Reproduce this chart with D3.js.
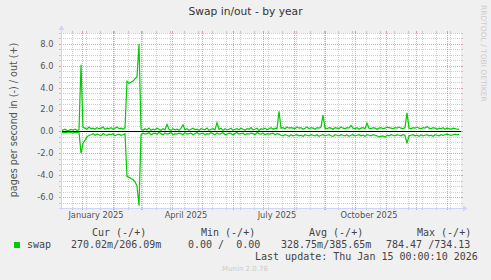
<!DOCTYPE html>
<html><head><meta charset="utf-8">
<script src="https://cdn.jsdelivr.net/npm/d3@7"></script>
<style>html,body{margin:0;padding:0;background:#f0f0f0;} svg{display:block} text.pre{white-space:pre}</style>
</head><body><svg id="c" width="491" height="280"></svg>
<script>
const title = "Swap in/out - by year";
const yLabel = "pages per second in (-) / out (+)";
const yTicks = [-6, -4, -2, 0, 2, 4, 6, 8];
const yTickLabels = ["-6.0", "-4.0", "-2.0", "0.0", "2.0", "4.0", "6.0", "8.0"];
const xLabels = ["January 2025", "April 2025", "July 2025", "October 2025"];
const xLabelDates = ["2025-01-15", "2025-04-15", "2025-07-15", "2025-10-15"];
const periodStart = "2024-12-11T00:00:10Z";
const periodEnd = "2026-01-15T00:00:10Z";
const stepDays = 2;
// pages per second swapped out (+), one value every 2 days
const swapOut = [
 0.15,0.12,0.2,0.08,0.1,0.18,0.12,0.2,0.1,0.15,
 6.1,
 0.35,0.3,0.2,0.4,0.25,0.3,0.2,0.35,0.25,0.3,0.4,0.2,0.3,0.25,0.35,0.2,0.3,0.4,0.25,0.3,0.2,0.35,
 4.6,4.4,4.5,4.6,4.8,5.0,8.0,
 0.2,0.1,0.25,0.15,0.3,0.1,0.2,0.15,0.3,0.2,0.1,0.25,0.15,
 0.65,
 0.2,0.1,0.25,0.15,0.2,0.1,0.3,
 0.6,
 0.15,0.25,0.1,0.2,0.3,0.15,0.2,0.1,0.25,0.2,0.15,0.3,0.1,0.2,0.25,0.15,
 0.8,
 0.2,0.3,0.1,0.25,0.15,0.2,0.3,0.1,0.2,0.25,0.15,0.3,0.2,0.1,0.25,0.2,0.35,0.15,0.2,0.3,0.1,0.25,0.2,0.3,0.15,0.25,0.35,0.2,0.3,0.25,
 1.85,
 0.3,0.35,0.25,0.4,0.3,0.35,0.3,0.25,0.4,0.3,0.35,0.2,0.3,0.4,0.25,0.35,0.3,0.2,0.35,0.3,0.4,
 1.5,
 0.3,0.25,0.35,0.3,0.2,0.35,0.3,0.25,0.4,0.3,0.25,0.35,0.3,
 0.55,
 0.3,0.25,0.35,0.2,0.3,0.35,0.25,
 0.75,
 0.3,0.25,0.35,0.3,0.2,0.3,0.35,0.25,0.3,0.4,0.35,0.3,0.25,0.35,0.3,0.4,0.3,0.25,0.35,
 1.7,
 0.3,0.25,0.35,0.3,0.4,0.3,0.25,0.35,0.3,0.45,0.3,0.25,0.35,0.3,0.2,0.3,0.25,0.35,0.2,0.3,0.25,0.2,0.3,0.25,0.2,0.21
];
// pages per second swapped in (-), one value every 2 days
const swapIn = [
 0.05,0.1,0.08,0.12,0.05,0.1,0.15,0.08,0.1,0.05,
 2.0,
 1.1,0.8,0.5,0.35,
 0.3,0.2,0.35,0.25,0.3,0.4,0.2,0.3,0.35,0.25,0.3,0.2,0.4,0.3,0.25,0.35,0.3,0.2,
 4.1,4.2,4.3,4.4,4.6,5.0,6.8,
 0.3,0.15,0.25,0.2,0.1,0.3,0.2,0.15,0.25,0.1,
 0.2,0.3,0.15,0.25,0.2,0.1,0.3,0.2,0.25,0.15,
 0.2,0.3,0.1,0.25,0.2,0.15,0.3,0.2,0.1,0.25,
 0.2,0.15,0.3,0.2,0.25,0.1,0.2,0.3,0.15,0.25,
 0.2,0.1,0.3,0.25,0.15,0.2,0.3,0.2,0.1,0.25,
 0.2,0.15,0.3,0.2,0.25,0.15,0.2,0.3,0.1,0.2,
 0.25,0.15,0.3,0.2,0.25,0.2,0.15,0.3,0.2,
 0.25,
 0.35,0.4,0.3,0.35,0.45,0.3,0.4,0.35,0.3,0.4,
 0.35,0.45,0.3,0.35,0.4,0.3,0.35,0.4,0.3,0.45,
 0.35,0.3,0.4,0.35,0.3,0.4,0.45,0.3,0.35,0.4,
 0.3,0.35,0.4,0.3,0.45,0.35,0.3,0.4,0.35,0.3,
 0.4,0.35,0.45,0.3,0.35,0.4,0.3,0.35,0.4,0.5,
 0.45,0.4,0.5,0.35,0.4,0.3,0.35,0.4,0.3,0.35,
 0.4,0.3,0.35,
 1.1,
 0.4,0.35,0.3,0.4,0.35,0.45,0.3,0.4,0.35,0.3,0.4,0.35,0.45,0.3,0.35,0.4,0.3,0.35,0.3,0.25,0.3,0.35,0.3,0.25,0.3,0.27
];
const seriesName = "swap";
const legendHeaders = ["Cur (-/+)", "Min (-/+)", "Avg (-/+)", "Max (-/+)"];
const legendValues = ["270.02m/206.09m", "0.00 /  0.00", "328.75m/385.65m", "784.47 /734.13"];
const lastUpdate = "Last update: Thu Jan 15 00:00:10 2026";
const version = "Munin 2.0.76";
const watermark = "RRDTOOL / TOBI OETIKER";

const svg = d3.select("#c");
const L = 61, R = 461, T = 33, B = 208;
const t0 = new Date(periodStart), t1 = new Date(periodEnd);
const x = d3.scaleUtc().domain([t0, t1]).range([L, R]);
const y = d3.scaleLinear().domain([-7, 9]).range([B, T]);
const DAY = 86400000;
const px = v => Math.round(v) + 0.5;

svg.append("rect").attr("x", 0).attr("y", 0).attr("width", 491).attr("height", 280).attr("fill", "#f0f0f0");
svg.append("rect").attr("x", L).attr("y", T).attr("width", R - L).attr("height", B - T).attr("fill", "#ffffff");

const gridCol = "rgba(128,128,128,0.38)";
const mgridCol = "rgba(224,80,80,0.55)";
const g = svg.append("g");

function hline(v, col) {
  const yy = px(y(v));
  g.append("line").attr("x1", L - 2).attr("x2", L).attr("y1", yy).attr("y2", yy).attr("stroke", col);
  g.append("line").attr("x1", R).attr("x2", R + 2).attr("y1", yy).attr("y2", yy).attr("stroke", col);
  g.append("line").attr("x1", L).attr("x2", R).attr("y1", yy).attr("y2", yy).attr("stroke", col).attr("stroke-dasharray", "1,1");
}
function vline(d, col) {
  const xx = px(x(d));
  g.append("line").attr("x1", xx).attr("x2", xx).attr("y1", B).attr("y2", B + 2).attr("stroke", col);
  g.append("line").attr("x1", xx).attr("x2", xx).attr("y1", T - 2).attr("y2", T).attr("stroke", col);
  g.append("line").attr("x1", xx).attr("x2", xx).attr("y1", T).attr("y2", B).attr("stroke", col).attr("stroke-dasharray", "1,1");
}
d3.range(-7, 9.001, 0.5).filter(v => Math.abs(v % 2) > 1e-6).forEach(v => hline(v, gridCol));
d3.utcWeek.range(new Date("2024-12-08T00:00:00Z"), t1, 2).filter(d => d >= t0).forEach(d => vline(d, gridCol));
yTicks.forEach(v => hline(v, mgridCol));
d3.utcMonth.range(t0, t1).forEach(d => vline(d, mgridCol));

// y tick labels
svg.append("g").selectAll("text").data(yTicks).join("text")
  .attr("x", 53.5).attr("y", d => y(d)).attr("dy", "0.35em")
  .attr("text-anchor", "end").attr("font-family", "DejaVu Sans").attr("font-size", 8.3)
  .attr("fill", "#555").text((d, i) => yTickLabels[i]);
// x labels
svg.append("g").selectAll("text").data(xLabels).join("text")
  .attr("x", (d, i) => x(new Date(xLabelDates[i] + "T00:00:00Z")))
  .attr("y", 217.5).attr("text-anchor", "middle").attr("font-family", "DejaVu Sans").attr("font-size", 8.3)
  .attr("fill", "#555").text(d => d);

// data lines
const outData = swapOut.map((v, i) => ({t: new Date(t0.getTime() + i * stepDays * DAY), v: v}));
const inData = swapIn.map((v, i) => ({t: new Date(t0.getTime() + i * stepDays * DAY), v: -v}));
const line = d3.line().x(d => x(d.t)).y(d => y(d.v));
svg.append("path").attr("d", line(inData)).attr("fill", "none").attr("stroke", "#00cc00").attr("stroke-width", 1.2);
svg.append("path").attr("d", line(outData)).attr("fill", "none").attr("stroke", "#00cc00").attr("stroke-width", 1.2);
// zero line
svg.append("line").attr("x1", L).attr("x2", R).attr("y1", px(y(0))).attr("y2", px(y(0))).attr("stroke", "#000");

// axes
const axisCol = "#cfd6f8";
svg.append("line").attr("x1", L - 2).attr("x2", R + 3).attr("y1", B + 0.5).attr("y2", B + 0.5).attr("stroke", axisCol);
svg.append("line").attr("x1", L + 0.5).attr("x2", L + 0.5).attr("y1", B + 2).attr("y2", T - 3).attr("stroke", axisCol);
svg.append("path").attr("d", `M${R + 2},${B - 2.5}L${R + 7},${B + 0.5}L${R + 2},${B + 3.5}Z`).attr("fill", axisCol);
svg.append("path").attr("d", `M${L - 2.5},${T - 3}L${L + 0.5},${T - 8}L${L + 3.5},${T - 3}Z`).attr("fill", axisCol);

// title
svg.append("text").attr("x", 245.5).attr("y", 14.5).attr("text-anchor", "middle")
  .attr("font-family", "DejaVu Sans").attr("font-size", 10.7).attr("fill", "#333").text(title);
// y label
svg.append("text").attr("transform", "translate(16.5,120) rotate(-90)").attr("text-anchor", "middle")
  .attr("font-family", "DejaVu Sans").attr("font-size", 9.6).attr("fill", "#555").text(yLabel);
// watermark
svg.append("text").attr("transform", "translate(481,5) rotate(90)").attr("text-anchor", "start")
  .attr("font-family", "DejaVu Sans").attr("font-size", 7.5).attr("fill", "#cccccc").text(watermark);

// legend
const mono = "DejaVu Sans Mono";
const headerX = [92, 201, 309, 417];
const valueX = [71, 188, 281, 386];
const lg = svg.append("g").attr("font-family", mono).attr("font-size", 10).attr("fill", "#444");
const mt = (xx, yy, s) => lg.append("text").attr("class", "pre").attr("xml:space", "preserve")
  .attr("x", xx).attr("y", yy).text(s.replace(/ /g, "\u00a0"));
legendHeaders.forEach((h, i) => mt(headerX[i], 236, h));
svg.append("rect").attr("x", 14).attr("y", 242).attr("width", 6).attr("height", 6).attr("fill", "#00cc00");
mt(27, 248, seriesName);
legendValues.forEach((v, i) => mt(valueX[i], 248, v));
mt(255, 260, lastUpdate);
svg.append("text").attr("x", 245).attr("y", 271).attr("text-anchor", "middle")
  .attr("font-family", "DejaVu Sans").attr("font-size", 7).attr("fill", "#cccccc").text(version);
</script></body></html>
